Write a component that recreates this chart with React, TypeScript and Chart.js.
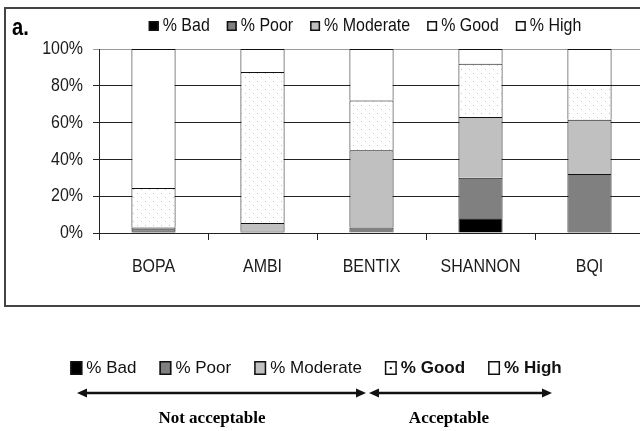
import React, { useEffect, useRef } from 'react';
import { Chart, registerables } from 'chart.js';
Chart.register(...registerables);

const categories = ['BOPA', 'AMBI', 'BENTIX', 'SHANNON', 'BQI'];
const seriesNames = ['% Bad', '% Poor', '% Moderate', '% Good', '% High'];
const bad = [1, 0.5, 0, 8, 0.5];
const poor = [1, 0.5, 3, 22, 31.5];
const moderate = [1, 4.5, 42, 33, 29.5];
const good = [21.5, 82, 27, 29, 19];
const high = [75.5, 12.5, 28, 8, 19.5];
const bottomGroups = ['Not acceptable', 'Acceptable'];
const panelLabel = 'a.';

const ARIAL = "'Liberation Sans', Arial, sans-serif";
const SERIF = "'Liberation Serif', 'Times New Roman', serif";
const SQUEEZE = 0.84;

function dotPattern(ctx: CanvasRenderingContext2D) {
  const c = document.createElement('canvas');
  c.width = 8;
  c.height = 8;
  const g = c.getContext('2d')!;
  g.fillStyle = '#ffffff';
  g.fillRect(0, 0, 8, 8);
  g.fillStyle = '#c4c4c4';
  g.fillRect(1, 1, 1, 1);
  g.fillRect(5, 5, 1, 1);
  return ctx.createPattern(c, 'repeat') as CanvasPattern;
}

function narrowText(ctx: CanvasRenderingContext2D, text: string, x: number, y: number, align: CanvasTextAlign) {
  ctx.save();
  ctx.translate(x, y);
  ctx.scale(SQUEEZE, 1);
  ctx.textAlign = align;
  ctx.fillText(text, 0, 0);
  ctx.restore();
}

function drawBox(ctx: CanvasRenderingContext2D, x: number, y: number, w: number, h: number, fill: string, dot: boolean) {
  ctx.fillStyle = fill;
  ctx.fillRect(x, y, w, h);
  ctx.strokeStyle = '#111';
  ctx.lineWidth = 1.5;
  ctx.strokeRect(x + 0.75, y + 0.75, w - 1.5, h - 1.5);
  if (dot) {
    ctx.fillStyle = '#111';
    ctx.fillRect(x + w / 2 - 1, y + h / 2 - 1, 2, 2);
  }
}

function arrow(ctx: CanvasRenderingContext2D, x1: number, x2: number, y: number) {
  ctx.strokeStyle = '#111';
  ctx.fillStyle = '#111';
  ctx.lineWidth = 2.5;
  ctx.beginPath();
  ctx.moveTo(x1 + 6, y);
  ctx.lineTo(x2 - 6, y);
  ctx.stroke();
  const L = 10, H = 4.5;
  ctx.beginPath();
  ctx.moveTo(x1, y);
  ctx.lineTo(x1 + L, y - H);
  ctx.lineTo(x1 + L, y + H);
  ctx.closePath();
  ctx.fill();
  ctx.beginPath();
  ctx.moveTo(x2, y);
  ctx.lineTo(x2 - L, y - H);
  ctx.lineTo(x2 - L, y + H);
  ctx.closePath();
  ctx.fill();
}

const legendFills = ['#000000', '#808080', '#c0c0c0', '#ffffff', '#ffffff'];

const decor = {
  id: 'decor',
  beforeDraw(chart: any) {
    const ctx: CanvasRenderingContext2D = chart.ctx;
    ctx.save();
    ctx.fillStyle = '#ffffff';
    ctx.fillRect(0, 0, chart.width, chart.height);
    ctx.strokeStyle = '#444';
    ctx.lineWidth = 2;
    ctx.strokeRect(5, 8, 760, 298);
    ctx.restore();
  },
  afterDraw(chart: any) {
    const ctx: CanvasRenderingContext2D = chart.ctx;
    ctx.save();
    // panel label
    ctx.fillStyle = '#000';
    ctx.font = `bold 24px ${ARIAL}`;
    ctx.textBaseline = 'alphabetic';
    narrowText(ctx, panelLabel, 12, 35, 'left');

    // axis tick labels (from the chart's own scales)
    ctx.font = `19px ${ARIAL}`;
    ctx.fillStyle = '#1a1a1a';
    ctx.textBaseline = 'middle';
    const ys = chart.scales.y;
    ys.ticks.forEach((t: any) => {
      narrowText(ctx, `${t.value}%`, ys.right - 16, ys.getPixelForValue(t.value), 'right');
    });
    const xs = chart.scales.x;
    (chart.data.labels as string[]).forEach((l, i) => {
      narrowText(ctx, l, xs.getPixelForTick(i), xs.top + 33.5, 'center');
    });

    // top legend
    ctx.font = `19px ${ARIAL}`;
    const bw = 10, gapT = 4, gapI = 17;
    const widths = seriesNames.map((s) => ctx.measureText(s).width * SQUEEZE);
    let total = widths.reduce((a, b) => a + b, 0) + seriesNames.length * (bw + gapT) + (seriesNames.length - 1) * gapI;
    let x = 365 - total / 2;
    seriesNames.forEach((s, i) => {
      drawBox(ctx, x, 21, bw, 10, legendFills[i], false);
      ctx.fillStyle = '#111';
      narrowText(ctx, s, x + bw + gapT, 26, 'left');
      x += bw + gapT + widths[i] + gapI;
    });

    // bottom legend
    const bw2 = 12, gap2 = 4, gapI2 = 23;
    const fonts = seriesNames.map((_, i) => (i >= 3 ? `bold 17px ${ARIAL}` : `17px ${ARIAL}`));
    const w2 = seriesNames.map((s, i) => {
      ctx.font = fonts[i];
      return ctx.measureText(s).width;
    });
    total = w2.reduce((a, b) => a + b, 0) + seriesNames.length * (bw2 + gap2) + (seriesNames.length - 1) * gapI2;
    x = 316 - total / 2;
    seriesNames.forEach((s, i) => {
      drawBox(ctx, x, 361, bw2, 14, legendFills[i], i === 3);
      ctx.font = fonts[i];
      ctx.fillStyle = '#111';
      ctx.textAlign = 'left';
      ctx.fillText(s, x + bw2 + gap2, 368);
      x += bw2 + gap2 + w2[i] + gapI2;
    });

    // arrows
    arrow(ctx, 77, 366, 393);
    arrow(ctx, 369, 552, 393);

    ctx.font = `bold 17px ${SERIF}`;
    ctx.textAlign = 'center';
    ctx.textBaseline = 'alphabetic';
    ctx.fillStyle = '#000';
    ctx.fillText(bottomGroups[0], 212, 423);
    ctx.fillText(bottomGroups[1], 449, 423);
    ctx.restore();
  },
};

export default function App() {
  const ref = useRef<HTMLCanvasElement>(null);
  useEffect(() => {
    const canvas = ref.current!;
    const ctx = canvas.getContext('2d')!;
    const pattern = dotPattern(ctx);
    const fills: any[] = ['#000000', '#808080', '#c0c0c0', pattern, '#ffffff'];
    const values = [bad, poor, moderate, good, high];
    const chart = new Chart(canvas, {
      type: 'bar',
      data: {
        labels: categories,
        datasets: seriesNames.map((name, i) => ({
          label: name,
          data: values[i],
          backgroundColor: fills[i],
          borderColor: '#111',
          borderWidth: 1,
          barPercentage: 1,
          categoryPercentage: 0.405,
        })),
      },
      options: {
        responsive: false,
        animation: false,
        devicePixelRatio: 1,
        layout: { padding: { left: 0, top: 49, right: 16, bottom: 138 } },
        plugins: { legend: { display: false }, tooltip: { enabled: false }, title: { display: false } },
        scales: {
          x: {
            stacked: true,
            afterFit: (s: any) => { s.height = 60; },
            grid: { drawOnChartArea: false, drawTicks: true, tickLength: 7, color: '#222', offset: true },
            border: { display: true, color: '#222', width: 1 },
            ticks: { display: false },
          },
          y: {
            stacked: true,
            min: 0,
            max: 100,
            afterFit: (s: any) => { s.width = 99; },
            grid: {
              color: (c: any) => (c.tick && c.tick.value === 100 ? '#9a9a9a' : '#222'),
              tickLength: 6,
              lineWidth: 1,
            },
            border: { display: true, color: '#222', width: 1 },
            ticks: { stepSize: 20, display: false, callback: (v: any) => `${v}%` },
          },
        },
      },
      plugins: [decor],
    });
    return () => chart.destroy();
  }, []);
  return (
    <div style={{ position: 'absolute', left: 0, top: 0, width: 640, height: 431, overflow: 'hidden', background: '#fff' }}>
      <canvas ref={ref} width={660} height={431} style={{ display: 'block' }} />
    </div>
  );
}
